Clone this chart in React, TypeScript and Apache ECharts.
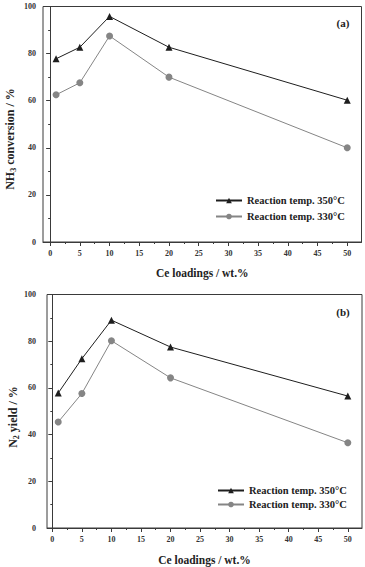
import React, { useEffect, useRef } from 'react';
import * as echarts from 'echarts';

const loadings = [1, 5, 10, 20, 50];
const nh3Conv350 = [77.8, 82.7, 95.8, 82.7, 60.2];
const nh3Conv330 = [62.5, 67.6, 87.5, 70.0, 40.0];
const n2Yield350 = [57.8, 72.5, 89.0, 77.5, 56.5];
const n2Yield330 = [45.4, 57.6, 80.2, 64.3, 36.5];
const xMajorTicks = [0, 5, 10, 15, 20, 25, 30, 35, 40, 45, 50];
const xMinorTicks = [2.5, 7.5, 12.5, 17.5, 22.5, 27.5, 32.5, 37.5, 42.5, 47.5];
const seriesNames = ['Reaction temp. 350°C', 'Reaction temp. 330°C'];
const panelLabels = ['(a)', '(b)'];
const xAxisTitle = 'Ce loadings / wt.%';

const FONT = '"Liberation Serif", "Times New Roman", serif';
const AX = '#3a3a3a';
const DARK = '#1e1e1e';
const GRAY = '#858585';

const pairs = (ys: number[]) => loadings.map((x, i) => [x, ys[i]]);

export default function App() {
  const ref = useRef<HTMLDivElement>(null);
  useEffect(() => {
    document.body.style.margin = '0';
    const chart = echarts.init(ref.current!, null, { renderer: 'svg' });

    const grids = [
      { left: 43, top: 6.5, width: 318.5, height: 235.5, min: -1.2, max: 52.4, yMargin: 7 },
      { left: 47, top: 294.5, width: 315, height: 235.5, min: -0.9, max: 52.4, yMargin: 11 },
    ];

    const xAxes: any[] = [];
    const yAxes: any[] = [];
    grids.forEach((g, i) => {
      xAxes.push({
        type: 'value', gridIndex: i, min: g.min, max: g.max, position: 'bottom',
        axisLine: { show: true, onZero: false, lineStyle: { color: AX, width: 1 } },
        axisTick: { show: true, length: 4, customValues: xMajorTicks, lineStyle: { color: AX } },
        axisLabel: {
          show: true, customValues: xMajorTicks, margin: 7,
          fontFamily: FONT, fontWeight: 'bold', fontSize: 8, color: '#333',
        },
        splitLine: { show: false },
        name: xAxisTitle, nameLocation: 'middle', nameGap: i === 0 ? 25 : 26,
        nameTextStyle: { fontFamily: FONT, fontWeight: 'bold', fontSize: 11.5, color: '#222' },
      });
      xAxes.push({
        type: 'value', gridIndex: i, min: g.min, max: g.max, position: 'bottom',
        axisLine: { show: false },
        axisTick: { show: true, length: 2, customValues: xMinorTicks, lineStyle: { color: AX } },
        axisLabel: { show: false },
        splitLine: { show: false },
      });
      yAxes.push({
        type: 'value', gridIndex: i, min: 0, max: 100, interval: 20,
        axisLine: { show: true, lineStyle: { color: AX, width: 1 } },
        axisTick: { show: true, length: 4, lineStyle: { color: AX } },
        minorTick: { show: true, splitNumber: 2, length: 2, lineStyle: { color: AX } },
        axisLabel: {
          margin: g.yMargin, fontFamily: FONT, fontWeight: 'bold', fontSize: 8, color: '#333',
        },
        splitLine: { show: false },
      });
    });

    const mk = (name: string, data: number[], gi: number, dark: boolean) => ({
      type: 'line', name, xAxisIndex: gi * 2, yAxisIndex: gi,
      data: pairs(data),
      symbol: dark ? 'triangle' : 'circle',
      symbolSize: 7,
      lineStyle: { color: dark ? DARK : GRAY, width: 1 },
      itemStyle: { color: dark ? DARK : GRAY },
      z: dark ? 3 : 2,
    });

    const series = [
      mk(seriesNames[0], nh3Conv350, 0, true),
      mk(seriesNames[1], nh3Conv330, 0, false),
      mk(seriesNames[0], n2Yield350, 1, true),
      mk(seriesNames[1], n2Yield330, 1, false),
    ];

    const legendBase = {
      orient: 'vertical', itemWidth: 26, itemHeight: 7,
      selectedMode: false, data: seriesNames,
      textStyle: { fontFamily: FONT, fontWeight: 'bold', fontSize: 10.5, color: '#222' },
    };

    const richY = (parts: string[]) => ({
      text: `{a|${parts[0]}}{s|${parts[1]}}{a|${parts[2]}}`,
      rich: {
        a: { fontFamily: FONT, fontWeight: 'bold', fontSize: 12, lineHeight: 14, verticalAlign: 'middle', fill: '#222' },
        s: { fontFamily: FONT, fontWeight: 'bold', fontSize: 8, lineHeight: 8, verticalAlign: 'bottom', fill: '#222', padding: [5, 0, 0, 0] },
      },
    });

    chart.setOption({
      animation: false,
      backgroundColor: '#fff',
      grid: grids.map((g) => ({
        left: g.left, top: g.top, width: g.width, height: g.height,
        show: true, borderColor: AX, borderWidth: 1, backgroundColor: 'transparent',
      })),
      xAxis: xAxes,
      yAxis: yAxes,
      legend: [
        { ...legendBase, left: 210, top: 190, itemGap: 5 },
        { ...legendBase, left: 212, top: 480, itemGap: 3 },
      ],
      series,
      graphic: [
        {
          type: 'text', x: 10, y: 139, rotation: Math.PI / 2,
          style: { ...richY(['NH', '3', ' conversion / %']), align: 'center', verticalAlign: 'middle' },
        },
        {
          type: 'text', x: 13, y: 417, rotation: Math.PI / 2,
          style: { ...richY(['N', '2', ' yield / %']), align: 'center', verticalAlign: 'middle' },
        },
        {
          type: 'text', x: 343, y: 23,
          style: { text: panelLabels[0], font: `bold 11px ${FONT}`, fill: '#222', align: 'center', verticalAlign: 'middle' },
        },
        {
          type: 'text', x: 343, y: 312,
          style: { text: panelLabels[1], font: `bold 11px ${FONT}`, fill: '#222', align: 'center', verticalAlign: 'middle' },
        },
      ],
    });
    return () => chart.dispose();
  }, []);
  return <div ref={ref} style={{ width: 365, height: 567 }} />;
}
